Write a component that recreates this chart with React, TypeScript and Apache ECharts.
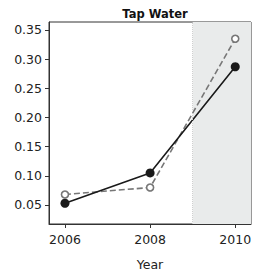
import React, { useEffect, useRef } from "react";
import * as echarts from "echarts";

const years = [2006, 2008, 2010];
const seriesSolid = [0.053, 0.105, 0.287];
const seriesDashed = [0.068, 0.08, 0.335];
const yTicks = [0.05, 0.1, 0.15, 0.2, 0.25, 0.3, 0.35];
const xTicks = [2006, 2008, 2010];
const shadeStart = 2009;
const titleText = "Tap Water";
const xName = "Year";

export default function App() {
  const ref = useRef<HTMLDivElement>(null);
  useEffect(() => {
    if (!ref.current) return;
    const chart = echarts.init(ref.current, null, { renderer: "svg" });
    const font = "DejaVu Sans";
    const xMin = 2005.625;
    const xMax = 2010.37;
    chart.setOption({
      animation: false,
      backgroundColor: "#ffffff",
      title: {
        text: titleText,
        left: 150,
        top: 3,
        textAlign: "center",
        textStyle: { fontFamily: font, fontSize: 11.5, fontWeight: "bold", color: "#111" },
      },
      grid: {
        left: 49,
        right: 2,
        top: 22,
        bottom: 49,
        show: true,
        borderColor: "#333",
        borderWidth: 1,
        backgroundColor: "transparent",
        outerBoundsMode: "none",
        containLabel: false,
      },
      xAxis: {
        type: "value",
        min: xMin,
        max: xMax,
        name: xName,
        nameLocation: "middle",
        nameGap: 34,
        nameTextStyle: { fontFamily: font, fontSize: 12.5, color: "#222" },
        axisLine: { show: true, lineStyle: { color: "#333", width: 1 } },
        axisTick: { show: true, length: 4, inside: false, customValues: xTicks, lineStyle: { color: "#333" } },
        axisLabel: {
          customValues: xTicks,
          formatter: (v: number) => String(Math.round(v)),
          fontFamily: font,
          fontSize: 12.5,
          color: "#222",
          margin: 9,
        },
        splitLine: { show: false },
      },
      yAxis: {
        type: "value",
        min: 0.0174,
        max: 0.3637,
        axisLine: { show: true, lineStyle: { color: "#333", width: 1 } },
        axisTick: { show: true, length: 4, inside: false, customValues: yTicks, lineStyle: { color: "#333" } },
        axisLabel: {
          customValues: yTicks,
          formatter: (v: number) => v.toFixed(2),
          fontFamily: font,
          fontSize: 12.5,
          color: "#222",
          margin: 7,
        },
        splitLine: { show: false },
      },
      series: [
        {
          type: "line",
          data: years.map((y, i) => [y, seriesDashed[i]]),
          symbol: "circle",
          symbolSize: 7,
          lineStyle: { color: "#777", width: 1.6, type: [6, 3] },
          itemStyle: { color: "#fff", borderColor: "#777", borderWidth: 1.6 },
          z: 3,
          markArea: {
            silent: true,
            itemStyle: { color: "#e9ebeb" },
            data: [[{ xAxis: shadeStart }, { xAxis: xMax }]],
          },
          markLine: {
            silent: true,
            symbol: "none",
            label: { show: false },
            lineStyle: { color: "#cfcfcf", type: "dotted", width: 1 },
            data: [{ xAxis: shadeStart }],
          },
        },
        {
          type: "line",
          data: years.map((y, i) => [y, seriesSolid[i]]),
          symbol: "circle",
          symbolSize: 9,
          lineStyle: { color: "#1a1a1a", width: 1.6 },
          itemStyle: { color: "#1a1a1a" },
          z: 4,
        },
      ],
    });
    return () => chart.dispose();
  }, []);
  return (
    <div
      ref={ref}
      style={{ position: "fixed", left: 0, top: 0, width: 253, height: 273 }}
    />
  );
}
